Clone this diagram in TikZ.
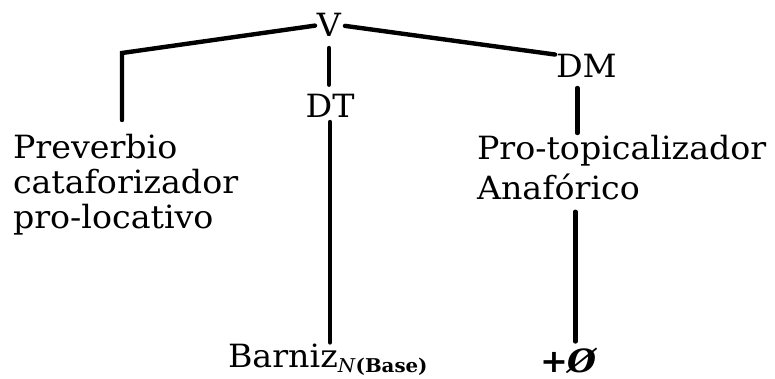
\documentclass[tikz,border=0pt]{standalone}
\usepackage{fontspec}
\setmainfont[FakeStretch=1.04]{DejaVu Serif}
\begin{document}
\begin{tikzpicture}[x=1pt,y=-1pt,
  rama/.style={line width=4.4pt,line cap=round},
  cat/.style={inner sep=0pt,outer sep=0pt,font=\fontsize{32}{35}\selectfont},
  texto/.style={cat,align=left}]
  \useasboundingbox (0,0) rectangle (775,379);
  % categorias
  \node[cat,anchor=base] (v) at (329,37) {V};
  \node[cat,anchor=base] (dt) at (330,118) {DT};
  \node[cat,anchor=base west] (dm) at (556,78) {DM};
  \coordinate (esq) at (122,53);
  % hojas
  \node[texto,anchor=north west] (prev) at (13,134) {Preverbio\\cataforizador\\pro-locativo};
  \node[texto,anchor=north west] (protop) at (477,135) {Pro-topicalizador\\[5pt]Anafórico};
  \node[cat,anchor=base west] (barniz) at (228,367)
    {Barniz\raisebox{-5pt}{\fontsize{19}{19}\selectfont\textit{N}\textbf{(Base)}}};
  \node[cat,anchor=base west] (nulo) at (540,372) {\textbf{+\textit{Ø}}};
  % ramas
  \draw[rama,shorten <=2pt,shorten >=14pt] (v.west) -- (esq) -- (esq |- prev.north);
  \draw[rama,shorten <=4pt,shorten >=1pt] (v.east) -- (dm.north west);
  \draw[rama,shorten <=11pt,shorten >=10pt] (v.south) -- (v.south |- dt.north);
  \draw[rama,shorten <=4pt,shorten >=1pt] (dt.south) -- (dt.south |- barniz.north);
  \draw[rama,shorten <=10pt,shorten >=2pt] ([xshift=-9pt]dm.south) -- ([xshift=-9pt]dm.south |- protop.north);
  \draw[rama,shorten <=12pt,shorten >=6pt] ([xshift=-11pt]dm.south |- protop.south) -- ([xshift=-11pt]dm.south |- nulo.north);
\end{tikzpicture}
\end{document}
